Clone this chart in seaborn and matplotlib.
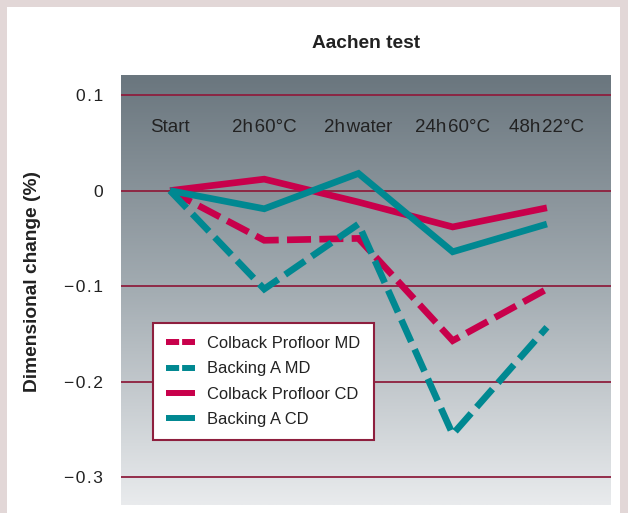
import numpy as np
import pandas as pd
import matplotlib.pyplot as plt
import seaborn as sns
from matplotlib.patches import Rectangle

# Data
steps = ['Start', '2h\u200a60\u00b0C', '2h\u200awater', '24h\u200a60\u00b0C', '48h\u200a22\u00b0C']
colback_md = [0.0, -0.052, -0.050, -0.157, -0.103]
backing_md = [0.0, -0.103, -0.035, -0.255, -0.143]
colback_cd = [0.0, 0.012, -0.012, -0.038, -0.018]
backing_cd = [0.0, -0.019, 0.018, -0.064, -0.035]
yticks = [0.1, 0.0, -0.1, -0.2, -0.3]
ytick_labels = ['0\u200a.\u200a1', '0', '\u2212\u200a0\u200a.\u200a1',
                '\u2212\u200a0\u200a.\u200a2', '\u2212\u200a0\u200a.\u200a3']

RED = '#c8004b'
TEAL = '#008891'
GRID = '#8e1f3e'
TXT = '#222222'

sns.set_style('white')
plt.rcParams['font.family'] = ['Liberation Sans', 'DejaVu Sans']

fig = plt.figure(figsize=(6.28, 5.13), dpi=100)
fig.patch.set_facecolor('#e2d7d7')
# white panel
fig.patches.append(Rectangle((7/628, 0), 613/628, 506/513, transform=fig.transFigure,
                             facecolor='white', edgecolor='none', zorder=-10))

ax = fig.add_axes([121/628, 8/513, 490/628, 430/513])
ax.set_xlim(-0.52, 4.68)
ax.set_ylim(-0.329, 0.121)

# gradient background
grad = np.linspace(0, 1, 256).reshape(-1, 1)
cmap = sns.blend_palette(['#6a767e', '#a3acb2', '#e9ebed'], as_cmap=True)
ax.imshow(grad, extent=[0, 1, 0, 1], transform=ax.transAxes, aspect='auto',
          cmap=cmap, zorder=0, origin='upper')

for y in yticks:
    ax.axhline(y, color=GRID, lw=1.3, zorder=1)

x = np.arange(len(steps))
series = [
    ('Colback Profloor MD', colback_md, RED, (0, (3.6, 1.25))),
    ('Backing A MD', backing_md, TEAL, (0, (3.6, 1.25))),
    ('Colback Profloor CD', colback_cd, RED, '-'),
    ('Backing A CD', backing_cd, TEAL, '-'),
]
for name, vals, col, ls in series:
    sns.lineplot(x=x, y=vals, ax=ax, color=col, lw=4.8, linestyle=ls, label=name,
                 zorder=3, solid_capstyle='butt', dash_capstyle='butt',
                 solid_joinstyle='miter', dash_joinstyle='miter')

for i, s in enumerate(steps):
    ax.text(i, 0.066, s, ha='center', va='center', fontsize=13.5, color=TXT)

ax.set_yticks(yticks)
ax.set_yticklabels(ytick_labels, fontsize=12.6, color=TXT)
ax.set_xticks([])
ax.tick_params(axis='y', length=0, pad=13)
for sp in ax.spines.values():
    sp.set_visible(False)

ax.set_ylabel('Dimensional change (%)', fontsize=13.8, fontweight='bold', color=TXT)
ax.yaxis.set_label_coords(-0.164, 0.52)
fig.text(366/628, 1 - 44/513, 'Aachen test', ha='center', va='center',
         fontsize=13.8, fontweight='bold', color=TXT)

leg = ax.legend(loc='upper left', bbox_to_anchor=(32/490, (505-323)/430),
                fontsize=11.9, frameon=True, fancybox=False, handlelength=1.76,
                handletextpad=0.72, borderpad=0.8, labelspacing=0.62, borderaxespad=0)
leg.get_frame().set_edgecolor(GRID)
leg.get_frame().set_linewidth(1.5)
leg.get_frame().set_facecolor('white')
leg.get_frame().set_alpha(1)
for h in leg.get_lines():
    h.set_linewidth(4.3)
    h.set_solid_capstyle('butt')
    h.set_dash_capstyle('butt')
    if h.get_linestyle() != '-':
        h.set_linestyle((0, (2.2, 0.5)))

for t in leg.get_texts():
    t.set_color(TXT)

fig.savefig('out.png', dpi=100, facecolor=fig.get_facecolor())
